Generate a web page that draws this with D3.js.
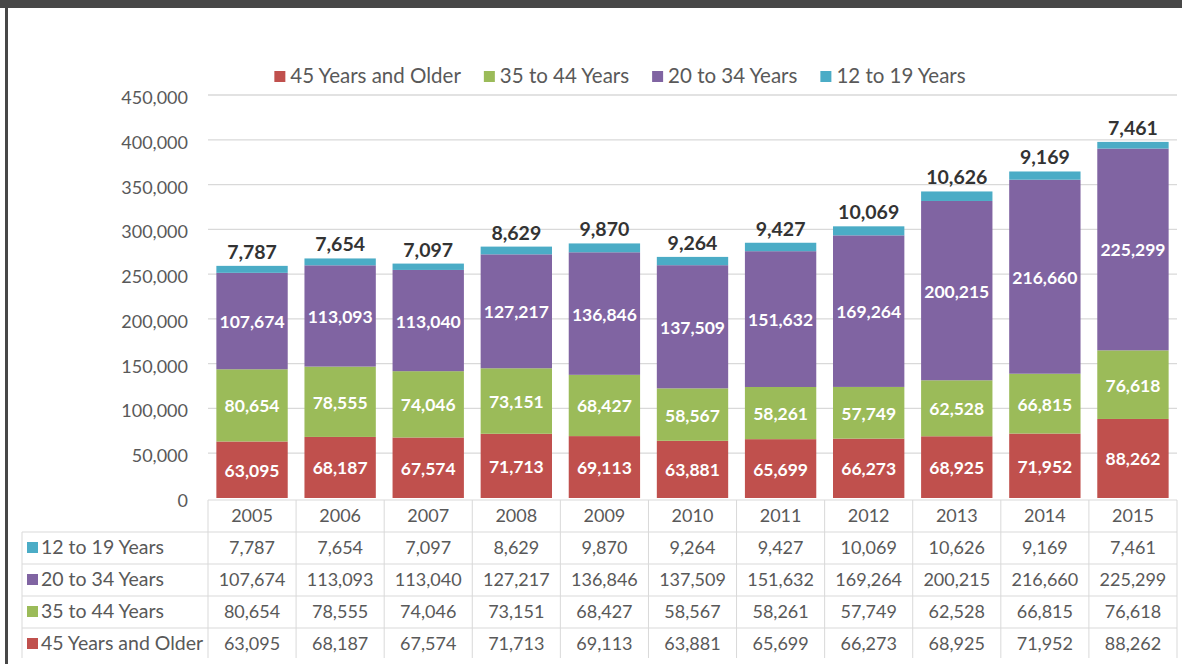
<!DOCTYPE html>
<html>
<head>
<meta charset="utf-8">
<style>
  body { margin: 0; background: #fff; }
  svg { display: block; font-family: Lato, "Open Sans", sans-serif; }
</style>
</head>
<body>
<script src="https://cdn.jsdelivr.net/npm/d3@7"></script>
<script>
// data
var years = [2005, 2006, 2007, 2008, 2009, 2010, 2011, 2012, 2013, 2014, 2015];
var teens = [7787, 7654, 7097, 8629, 9870, 9264, 9427, 10069, 10626, 9169, 7461];
var young = [107674, 113093, 113040, 127217, 136846, 137509, 151632, 169264, 200215, 216660, 225299];
var mid = [80654, 78555, 74046, 73151, 68427, 58567, 58261, 57749, 62528, 66815, 76618];
var older = [63095, 68187, 67574, 71713, 69113, 63881, 65699, 66273, 68925, 71952, 88262];
var seriesNames = ["45 Years and Older", "35 to 44 Years", "20 to 34 Years", "12 to 19 Years"];
var yTicks = [0, 50000, 100000, 150000, 200000, 250000, 300000, 350000, 400000, 450000];

var colors = ["#c0504d", "#9bbb59", "#8064a2", "#4bacc6"];
var fmt = d3.format(",");

var W = 1182, H = 664;
var svg = d3.select("body").append("svg").attr("width", W).attr("height", H);

// frame
svg.append("rect").attr("x", 0).attr("y", 0).attr("width", W).attr("height", 8).attr("fill", "#474747");
svg.append("rect").attr("x", 5).attr("y", 0).attr("width", 3).attr("height", H).attr("fill", "#474747");

// rows built from the arrays
var rows = years.map(function(yr, i) {
  return {year: yr, s0: older[i], s1: mid[i], s2: young[i], s3: teens[i]};
});
var keys = ["s0", "s1", "s2", "s3"];
var stack = d3.stack().keys(keys)(rows);

var plotL = 208, plotR = 1177, plotT = 95, plotB = 498;
var x = d3.scaleBand().domain(years).range([plotL, plotR]).paddingInner(0.19).paddingOuter(0.095);
var y = d3.scaleLinear().domain([0, 450000]).range([plotB, plotT]);

// gridlines
svg.append("g").selectAll("line").data(yTicks.slice(1)).enter().append("line")
  .attr("x1", plotL).attr("x2", plotR)
  .attr("y1", function(d) { return y(d); }).attr("y2", function(d) { return y(d); })
  .attr("stroke", "#d9d9d9").attr("stroke-width", 1.3);

// y axis labels
svg.append("g").selectAll("text").data(yTicks).enter().append("text")
  .attr("x", 188).attr("y", function(d) { return y(d) + 9; })
  .attr("text-anchor", "end").attr("font-size", 18).attr("fill", "#595959")
  .text(function(d) { return fmt(d); });

// bars
var layers = svg.append("g").selectAll("g").data(stack).enter().append("g")
  .attr("fill", function(d, i) { return colors[i]; });
layers.selectAll("rect").data(function(d) { return d; }).enter().append("rect")
  .attr("x", function(d) { return x(d.data.year); })
  .attr("width", x.bandwidth())
  .attr("y", function(d) { return y(d[1]); })
  .attr("height", function(d) { return y(d[0]) - y(d[1]); });

// labels inside the three lower segments
stack.slice(0, 3).forEach(function(layer) {
  svg.append("g").selectAll("text").data(layer).enter().append("text")
    .attr("x", function(d) { return x(d.data.year) + x.bandwidth() / 2; })
    .attr("y", function(d) { return (y(d[0]) + y(d[1])) / 2 + 7; })
    .attr("text-anchor", "middle").attr("font-size", 17.5).attr("font-weight", "bold")
    .attr("fill", "#fff")
    .text(function(d) { return fmt(d[1] - d[0]); });
});
// labels above the bars
svg.append("g").selectAll("text").data(stack[3]).enter().append("text")
  .attr("x", function(d) { return x(d.data.year) + x.bandwidth() / 2; })
  .attr("y", function(d) { return y(d[1]) - 7; })
  .attr("text-anchor", "middle").attr("font-size", 19.5).attr("font-weight", "bold")
  .attr("fill", "#333")
  .text(function(d) { return fmt(d[1] - d[0]); });

// legend
var lg = svg.append("g");
var lx = 0;
seriesNames.forEach(function(name, i) {
  var it = lg.append("g").attr("transform", "translate(" + lx + ",0)");
  it.append("rect").attr("x", 0).attr("y", -12).attr("width", 11).attr("height", 11).attr("fill", colors[i]);
  var t = it.append("text").attr("x", 16).attr("y", 0).attr("font-size", 20.5).attr("fill", "#595959").text(name);
  lx += 16 + t.node().getComputedTextLength() + 23;
});
lg.attr("transform", "translate(" + (620 - (lx - 23) / 2) + ",83)");

// data table
var rowH = 32, tTop = 500;
var tableRows = [
  {name: seriesNames[3], vals: teens, c: colors[3]},
  {name: seriesNames[2], vals: young, c: colors[2]},
  {name: seriesNames[1], vals: mid, c: colors[1]},
  {name: seriesNames[0], vals: older, c: colors[0]}
];
var step = x.step();
var tg = svg.append("g");
var gridC = "#d9d9d9";
var tBot = 658;
tg.append("line").attr("x1", plotL).attr("x2", plotR).attr("y1", tTop).attr("y2", tTop).attr("stroke", gridC);
for (var r = 1; r <= 4; r++) {
  tg.append("line").attr("x1", 22).attr("x2", plotR)
    .attr("y1", tTop + r * rowH).attr("y2", tTop + r * rowH).attr("stroke", gridC);
}
tg.append("line").attr("x1", 22).attr("x2", 22).attr("y1", tTop + rowH).attr("y2", tBot).attr("stroke", gridC);
years.forEach(function(yr, i) {
  tg.append("line").attr("x1", plotL + i * step).attr("x2", plotL + i * step)
    .attr("y1", tTop).attr("y2", tBot).attr("stroke", gridC);
});
tg.append("line").attr("x1", plotR).attr("x2", plotR).attr("y1", tTop).attr("y2", tBot).attr("stroke", gridC);

tg.selectAll("text.yr").data(years).enter().append("text")
  .attr("x", function(d) { return x(d) + x.bandwidth() / 2; })
  .attr("y", tTop + rowH / 2 + 6)
  .attr("text-anchor", "middle").attr("font-size", 18).attr("fill", "#595959")
  .text(function(d) { return d; });

tableRows.forEach(function(row, r) {
  var cy = tTop + (r + 1) * rowH + rowH / 2;
  tg.append("rect").attr("x", 27).attr("y", cy - 6).attr("width", 11).attr("height", 11).attr("fill", row.c);
  tg.append("text").attr("x", 41).attr("y", cy + 6).attr("font-size", 19.5).attr("fill", "#595959").text(row.name);
  tg.append("g").selectAll("text").data(row.vals).enter().append("text")
    .attr("x", function(d, i) { return x(years[i]) + x.bandwidth() / 2; })
    .attr("y", cy + 6)
    .attr("text-anchor", "middle").attr("font-size", 18).attr("fill", "#595959")
    .text(function(d) { return fmt(d); });
});
</script>
</body>
</html>
